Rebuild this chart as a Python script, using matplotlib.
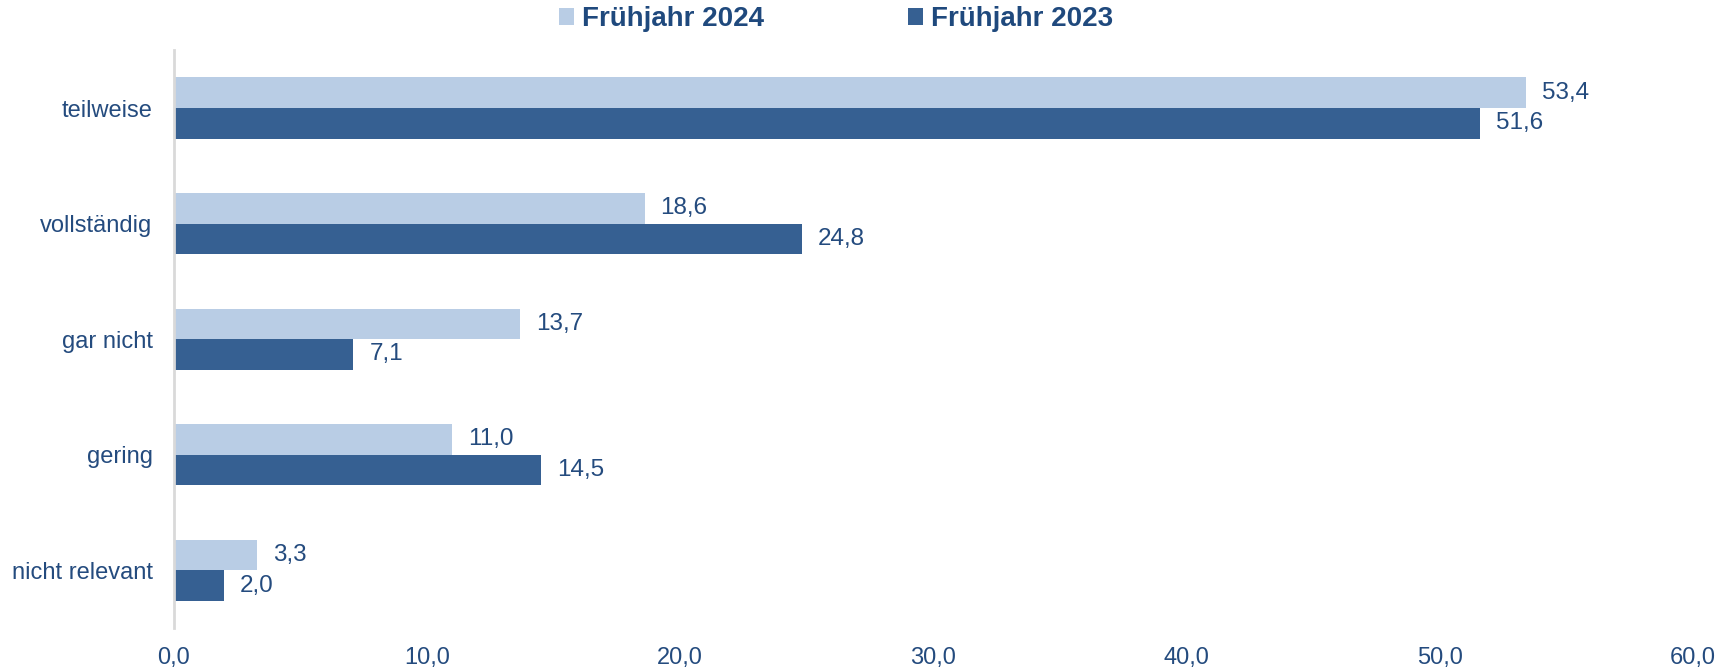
import matplotlib
matplotlib.use("Agg")
import matplotlib.pyplot as plt
from matplotlib.patches import Patch

categories = ["teilweise", "vollständig", "gar nicht", "gering", "nicht relevant"]
values_2024 = [53.4, 18.6, 13.7, 11.0, 3.3]
values_2023 = [51.6, 24.8, 7.1, 14.5, 2.0]
series_names = ["Frühjahr 2024", "Frühjahr 2023"]
xticks = [0, 10, 20, 30, 40, 50, 60]

light = "#B9CDE5"
dark = "#366092"
txt = "#244B7E"

plt.rcParams["font.family"] = ["Liberation Sans", "DejaVu Sans"]

fig = plt.figure(figsize=(17.35, 6.70), dpi=100)
ax = fig.add_axes([0.1, 0.0627, 0.8758, 0.8623])

n = len(categories)
pos = [n - 1 - i for i in range(n)]
h = 0.265
b1 = ax.barh([p + h / 2 for p in pos], values_2024, height=h, color=light, label=series_names[0])
b2 = ax.barh([p - h / 2 for p in pos], values_2023, height=h, color=dark, label=series_names[1])

for bars, vals in ((b1, values_2024), (b2, values_2023)):
    for r, v in zip(bars, vals):
        ax.annotate(f"{v:.1f}".replace(".", ","), (r.get_width(), r.get_y() + r.get_height() / 2),
                    xytext=(16, 0), textcoords="offset pixels", va="center", ha="left",
                    fontsize=17.5, color=txt)

ax.set_xlim(0, 60)
ax.set_ylim(-0.5, n - 0.5)
ax.set_yticks(pos)
ax.set_yticklabels(categories)
ax.set_xticks(xticks)
ax.set_xticklabels([f"{t:.1f}".replace(".", ",") for t in xticks])
ax.tick_params(axis="both", length=0, labelsize=17, labelcolor=txt)
ax.tick_params(axis="y", pad=15)
ax.tick_params(axis="x", pad=14)
for s in ("top", "right", "bottom"):
    ax.spines[s].set_visible(False)
ax.spines["left"].set_color("#D9D9D9")
ax.spines["left"].set_linewidth(2)

handles = [Patch(facecolor=light), Patch(facecolor=dark)]
leg = fig.legend(handles, series_names, loc="center", bbox_to_anchor=(0.482, 0.971), ncol=2,
                 frameon=False, handlelength=0.54, handleheight=0.54, handletextpad=0.29,
                 columnspacing=5.2,
                 prop={"family": "Liberation Sans", "weight": "bold", "size": 20})
for t in leg.get_texts():
    t.set_color("#1F497D")

fig.savefig("out.png", dpi=100)
